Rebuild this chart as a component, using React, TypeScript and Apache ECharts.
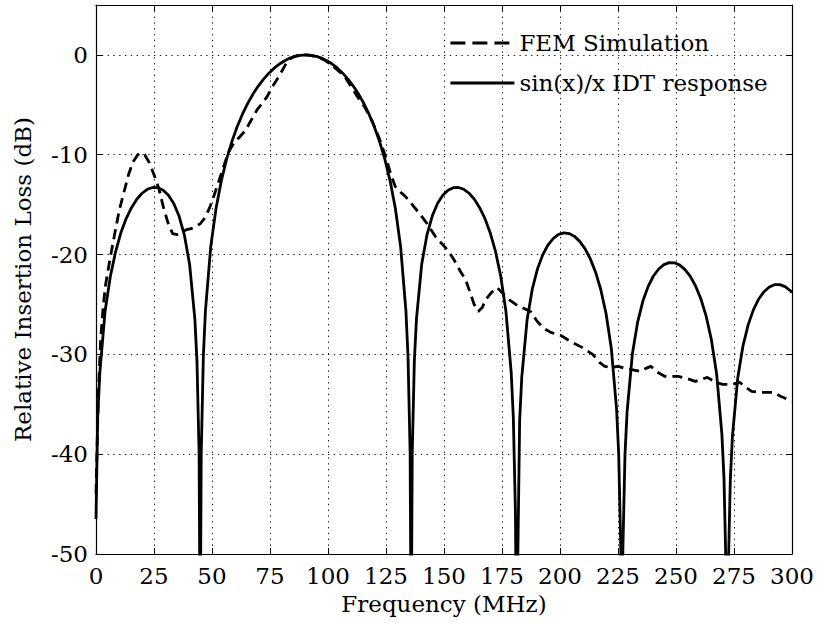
import React, { useEffect, useRef } from "react";
import * as echarts from "echarts";

// sin(x)/x IDT response (frequency MHz, relative insertion loss dB)
const sincFreq = [
  0, 0.72, 1.63, 3.9, 6.18, 8.46, 10.74, 13.01, 15.29, 17.57, 19.85, 22.12, 24.4, 26.68, 28.96, 31.23,
  33.51, 35.79, 38.07, 40.34, 42.62, 43.53, 44.44, 44.9, 45.36, 46.27, 47.18, 49.45, 51.73, 54.01,
  56.29, 58.56, 60.84, 63.12, 65.4, 67.67, 69.95, 72.23, 74.51, 76.78, 79.06, 81.34, 83.62, 85.89,
  88.17, 90.45, 92.72, 94.99, 97.26, 99.53, 101.8, 104.07, 106.34, 108.61, 110.88, 113.15, 115.42,
  117.69, 119.96, 122.23, 124.5, 126.77, 129.04, 131.31, 133.58, 134.49, 135.4, 135.85, 136.3, 137.21,
  138.12, 140.39, 142.66, 144.93, 147.2, 149.47, 151.74, 154.01, 156.28, 158.55, 160.82, 163.09,
  165.36, 167.63, 169.9, 172.17, 174.44, 176.71, 178.98, 179.89, 180.8, 181.25, 182.61, 183.52,
  185.79, 188.06, 190.33, 192.6, 194.87, 197.14, 199.41, 201.68, 203.95, 206.22, 208.49, 210.76,
  213.03, 215.3, 217.57, 219.84, 222.11, 224.38, 225.29, 226.2, 226.65, 227.1, 228.01, 228.92,
  231.19, 233.46, 235.73, 238.0, 240.27, 242.54, 244.81, 247.08, 249.35, 251.62, 253.89, 256.16,
  258.43, 260.7, 262.97, 265.24, 267.51, 269.78, 270.69, 271.6, 272.05, 272.5, 273.41, 274.32,
  276.59, 278.86, 281.13, 283.4, 285.67, 287.94, 290.21, 292.48, 294.75, 297.02, 299.29, 300,
];
const sincDb = [
  -46.5, -36.4, -31.9, -25.7, -22.2, -19.7, -17.8, -16.4, -15.3, -14.46, -13.86, -13.46, -13.28, -13.3, -13.55, -14.06,
  -14.89, -16.14, -18.02, -20.97, -26.48, -30.73, -40.09, -60, -39.91, -30.21, -25.61, -19.23, -15.39, -12.62,
  -10.45, -8.69, -7.2, -5.94, -4.86, -3.92, -3.12, -2.42, -1.83, -1.33, -0.91, -0.58, -0.32, -0.14,
  -0.04, 0, -0.04, -0.14, -0.32, -0.58, -0.91, -1.33, -1.83, -2.42, -3.12, -3.92, -4.86,
  -5.94, -7.2, -8.69, -10.45, -12.62, -15.39, -19.23, -25.61, -30.21, -39.91, -60, -40.09, -30.73,
  -26.48, -20.97, -18.02, -16.14, -14.89, -14.06, -13.55, -13.3, -13.28, -13.46, -13.86, -14.46,
  -15.3, -16.39, -17.81, -19.66, -22.15, -25.72, -31.86, -36.36, -45.98, -60, -36.62, -32.29,
  -26.59, -23.45, -21.41, -20.0, -19.02, -18.37, -17.98, -17.83, -17.9, -18.18, -18.68, -19.41,
  -20.41, -21.74, -23.5, -25.9, -29.39, -35.45, -39.93, -49.5, -60, -49.57, -40.1, -35.74,
  -29.97, -26.77, -24.66, -23.19, -22.15, -21.45, -21.01, -20.81, -20.83, -21.06, -21.51, -22.19,
  -23.15, -24.43, -26.15, -28.51, -31.96, -37.99, -42.45, -52.0, -60, -52.1, -42.58, -38.21,
  -32.4, -29.16, -27.02, -25.52, -24.45, -23.72, -23.25, -23.02, -23.01, -23.21, -23.63, -23.82,
];

// FEM simulation
const femFreq = [
  0, 1, 2, 3, 4, 6, 8, 10, 12, 14, 16, 18, 19.5, 21, 23, 25, 27, 29, 31, 33, 35, 37, 39, 41, 43, 45,
  47, 49, 51, 53, 55, 57, 59.3, 62, 64.3, 67, 69.4, 71.5, 73.7, 76, 78.7, 81.6, 83, 85, 87.5, 90,
  92.5, 95, 98, 101, 104, 107, 110, 113, 116, 119, 122, 125, 127, 129, 131, 133, 135, 137, 139.8,
  142.7, 146.3, 149, 151.4, 153.7, 155.5, 157.1, 159.3, 161.4, 163, 164.8, 166.5, 168, 170.5, 172.9,
  175.8, 178.5, 181.6, 184.5, 187.3, 190.2, 193.1, 196, 200.3, 205.3, 209.5, 214.1, 217, 219.3, 222,
  225.2, 228, 230.3, 234.8, 237, 239.2, 242, 245.1, 248, 251, 254.5, 258.3, 261, 263.5, 267, 270.1,
  274.5, 277.5, 280, 282.6, 285.5, 288.5, 292.2, 295, 298.1, 300,
];
const femDb = [
  -44, -34, -28.5, -25.5, -23.2, -20.5, -18, -15.6, -13.8, -12, -10.7, -10, -9.8, -10, -10.8, -12, -13.3,
  -15.2, -16.8, -17.9, -18, -17.8, -17.5, -17.4, -17.2, -16.9, -16.3, -15.3, -14, -12.6, -11.2, -9.8,
  -8.85, -8.2, -7.6, -6.5, -5.5, -4.9, -4.2, -3.2, -2.2, -1.0, -0.5, -0.2, 0, 0, -0.05, -0.2, -0.45,
  -0.9, -1.5, -2.1, -3.2, -4.3, -5.3, -6.6, -8.3, -10.3, -11.9, -13.2, -13.7, -14.1, -14.6, -15.2,
  -16, -16.9, -18.2, -18.9, -19.5, -20.3, -21, -21.7, -22.5, -23.9, -25, -25.7, -25.3, -24.5, -23.8,
  -23.3, -24, -24.6, -25.1, -25.4, -25.7, -26.7, -27.4, -27.8, -28.1, -28.8, -29.3, -30.0, -30.8,
  -31.2, -31.3, -31.2, -31.4, -31.5, -31.7, -31.4, -31.2, -31.8, -32.2, -32.2, -32.2, -32.4, -32.7,
  -32.5, -32.3, -32.8, -33.0, -33.0, -32.8, -33.3, -33.7, -33.8, -33.8, -33.8, -34.2, -34.5, -34.7,
];

const xTicks = { min: 0, max: 300, interval: 25 };
const yTicks = { min: -50, max: 5, interval: 10 };

const FONT = "DejaVu Serif";

export default function App() {
  const ref = useRef<HTMLDivElement>(null);
  useEffect(() => {
    document.body.style.margin = "0";
    const chart = echarts.init(ref.current!, null, { renderer: "svg" });
    const zip = (xs: number[], ys: number[]) => xs.map((x, i) => [x, ys[i]]);
    const tickStyle = { inside: true, length: 6, lineStyle: { color: "#000", width: 1 } };
    const axisLine = { show: true, onZero: false, lineStyle: { color: "#000", width: 1.2 } };
    const grid = { show: true, lineStyle: { color: "#222", width: 1, type: [1.4, 4.4] } };
    const textStyle = { fontFamily: FONT, fontSize: 23, color: "#000", fontWeight: 500 };
    chart.setOption({
      animation: false,
      backgroundColor: "#fff",
      color: ["#000", "#000"],
      grid: { left: 96, right: 25, top: 5, bottom: 69, containLabel: false },
      legend: {
        orient: "vertical",
        left: 444,
        top: 25,
        itemWidth: 64,
        itemHeight: 14,
        itemGap: 14,
        itemStyle: { opacity: 0 },
        textStyle: { ...textStyle, lineHeight: 26 },
        data: [
          { name: "FEM Simulation", lineStyle: { type: [15, 7], width: 2.8, color: "#000" } },
          { name: "sin(x)/x IDT response", lineStyle: { type: "solid", width: 2.8, color: "#000" } },
        ],
      },
      xAxis: [
        {
          type: "value",
          position: "bottom",
          ...xTicks,
          axisLine,
          axisTick: tickStyle,
          splitLine: grid,
          axisLabel: { ...textStyle, margin: 10 },
          name: "Frequency (MHz)",
          nameLocation: "middle",
          nameGap: 38,
          nameTextStyle: textStyle,
        },
        {
          type: "value",
          position: "top",
          ...xTicks,
          axisLine,
          axisTick: tickStyle,
          splitLine: { show: false },
          axisLabel: { show: false },
        },
      ],
      yAxis: [
        {
          type: "value",
          position: "left",
          ...yTicks,
          axisLine,
          axisTick: tickStyle,
          splitLine: grid,
          axisLabel: {
            ...textStyle,
            margin: 8,
            formatter: (v: number) => (v > 0 ? "" : String(v)),
          },
          name: "Relative Insertion Loss (dB)",
          nameLocation: "middle",
          nameGap: 62,
          nameTextStyle: textStyle,
        },
        {
          type: "value",
          position: "right",
          ...yTicks,
          axisLine,
          axisTick: tickStyle,
          splitLine: { show: false },
          axisLabel: { show: false },
        },
      ],
      series: [
        {
          name: "FEM Simulation",
          type: "line",
          data: zip(femFreq, femDb),
          symbol: "none",
          clip: true,
          itemStyle: { color: "#000" },
          lineStyle: { color: "#000", width: 2.8, type: [10, 6] },
          z: 3,
        },
        {
          name: "sin(x)/x IDT response",
          type: "line",
          data: zip(sincFreq, sincDb),
          symbol: "none",
          clip: true,
          itemStyle: { color: "#000" },
          lineStyle: { color: "#000", width: 2.8, type: "solid" },
          z: 4,
        },
      ],
    });
    return () => chart.dispose();
  }, []);
  return <div ref={ref} style={{ width: 817, height: 623 }} />;
}
